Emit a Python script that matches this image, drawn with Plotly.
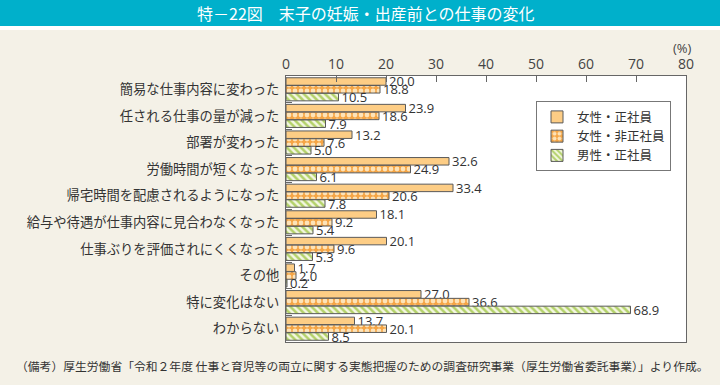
import plotly.graph_objects as go

categories = [
    "簡易な仕事内容に変わった",
    "任される仕事の量が減った",
    "部署が変わった",
    "労働時間が短くなった",
    "帰宅時間を配慮されるようになった",
    "給与や待遇が仕事内容に見合わなくなった",
    "仕事ぶりを評価されにくくなった",
    "その他",
    "特に変化はない",
    "わからない",
]
female_regular = [20.0, 23.9, 13.2, 32.6, 33.4, 18.1, 20.1, 1.7, 27.0, 13.7]
female_nonregular = [18.8, 18.6, 7.6, 24.9, 20.6, 9.2, 9.6, 2.0, 36.6, 20.1]
male_regular = [10.5, 7.9, 5.0, 6.1, 7.8, 5.4, 5.3, 0.2, 68.9, 8.5]
series_names = ["女性・正社員", "女性・非正社員", "男性・正社員"]
x_ticks = [0, 10, 20, 30, 40, 50, 60, 70, 80]

JP = "Noto Sans CJK JP"
NUM = "Open Sans"
line = dict(color="#5a5a5a", width=1)
label_font = dict(family=NUM, size=13, color="#333")

fig = go.Figure()
fig.add_trace(go.Bar(
    y=categories, x=female_regular, name=series_names[0], orientation="h",
    marker=dict(color="#FDCD85", line=line),
    text=[f"{v:.1f}" for v in female_regular], textposition="outside",
    constraintext="none", textfont=label_font, cliponaxis=False,
))
fig.add_trace(go.Bar(
    y=categories, x=female_nonregular, name=series_names[1], orientation="h",
    marker=dict(color="#F5A545", line=line,
                pattern=dict(shape=".", fgcolor="#FDE3B8", bgcolor="#F5A545",
                             size=6, solidity=0.5, fillmode="replace")),
    text=[f"{v:.1f}" for v in female_nonregular], textposition="outside",
    constraintext="none", textfont=label_font, cliponaxis=False,
))
fig.add_trace(go.Bar(
    y=categories, x=male_regular, name=series_names[2], orientation="h",
    marker=dict(color="#F4F7E2", line=line,
                pattern=dict(shape="\\", fgcolor="#B3D16A", bgcolor="#F4F7E2",
                             size=5, solidity=0.5, fillmode="replace")),
    text=[f"{v:.1f}" for v in male_regular], textposition="outside",
    constraintext="none", textfont=label_font, cliponaxis=False,
))

fig.update_layout(
    width=720, height=385,
    margin=dict(l=286, r=34, t=76, b=43, autoexpand=False),
    paper_bgcolor="#F4F1E7", plot_bgcolor="#FFFFFF",
    barmode="group", bargap=0.12, bargroupgap=0.04,
    showlegend=True,
    legend=dict(x=0.625, y=0.905, xanchor="left", yanchor="top",
                bgcolor="#FFFFFF", bordercolor="#777", borderwidth=1,
                font=dict(family=JP, size=12.5, color="#333"),
                tracegroupgap=2, itemwidth=30),
    xaxis=dict(side="top", range=[0, 80], tickvals=x_ticks, automargin=False,
               tickfont=dict(family=NUM, size=14, color="#444"),
               ticks="inside", ticklen=6, tickcolor="#666",
               showgrid=False, zeroline=False,
               showline=True, linecolor="#666", linewidth=1, mirror=True),
    yaxis=dict(autorange="reversed", tickson="boundaries", automargin=False,
               ticks="inside", ticklen=6, tickcolor="#666",
               tickfont=dict(family=JP, size=13.3, color="#333"),
               showgrid=False, showline=True, linecolor="#666",
               linewidth=1, mirror=True, ticksuffix=" "),
    font=dict(family=JP),
)

fig.add_shape(type="rect", xref="paper", yref="paper",
              x0=-286/400, x1=(720-286)/400, y0=(385-43-26)/266, y1=(385-43)/266,
              fillcolor="#00B0CB", line=dict(width=0), layer="below")
fig.add_shape(type="rect", xref="paper", yref="paper",
              x0=-286/400, x1=(720-286)/400, y0=(385-43-30)/266, y1=(385-43-26)/266,
              fillcolor="#FFFFFF", line=dict(width=0), layer="below")
fig.add_annotation(text="特－22図　末子の妊娠・出産前との仕事の変化",
                   xref="paper", yref="paper", x=(366-286)/400, y=(385-43-13)/266,
                   xanchor="center", yanchor="middle", showarrow=False,
                   font=dict(family=JP, size=16, color="#FFFFFF"))
fig.add_annotation(text="(%)", xref="paper", yref="paper",
                   x=0.99, y=(385-43-48)/266, xanchor="center", yanchor="middle",
                   showarrow=False, font=dict(family=NUM, size=13, color="#444"))
fig.add_annotation(text="（備考）厚生労働省「令和２年度 仕事と育児等の両立に関する実態把握のための調査研究事業（厚生労働省委託事業）」より作成。",
                   xref="paper", yref="paper", x=(14-286)/400, y=(385-43-365)/266,
                   xanchor="left", yanchor="middle", showarrow=False,
                   font=dict(family=JP, size=11.8, color="#333"))

fig.write_html("out.html", config={"displayModeBar": False},
               post_script="document.body.style.margin='0';document.body.style.overflow='hidden';")
